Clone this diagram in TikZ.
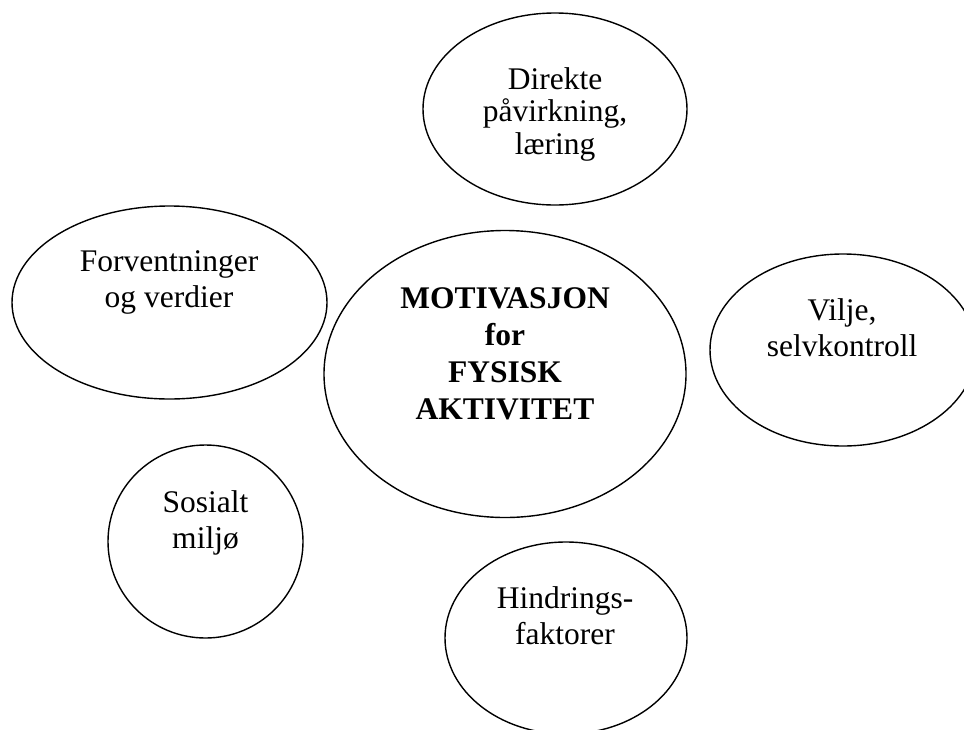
\documentclass[tikz,border=0pt]{standalone}
\usepackage{fontspec}
\setmainfont{Liberation Serif}
\usetikzlibrary{shapes.geometric}

\tikzset{
  bubble/.style={draw, ellipse, line width=1.4pt, inner sep=0pt},
  bubbletext/.style={align=center, inner sep=0pt, font=\fontsize{31.5}{36}\selectfont},
}

\begin{document}
\begin{tikzpicture}[x=1pt,y=1pt,yscale=-1,xscale=1]
                  \useasboundingbox (0,0) rectangle (964,729);
                  \clip (0,0) rectangle (964,729);

                  %Shape: Ellipse [id:direkte]
                  \node [bubble, minimum width=264, minimum height=192] (direkte) at (555,109) {};
                  %Shape: Ellipse [id:forvent]
                  \node [bubble, minimum width=315, minimum height=193] (forvent) at (169.5,302.5) {};
                  %Shape: Ellipse [id:motiv]
                  \node [bubble, minimum width=362, minimum height=287] (motiv) at (505,374) {};
                  %Shape: Ellipse [id:vilje]
                  \node [bubble, minimum width=266, minimum height=192] (vilje) at (843,350) {};
                  %Shape: Ellipse [id:sosial]
                  \node [bubble, minimum width=195, minimum height=193] (sosial) at (205.5,541.5) {};
                  %Shape: Ellipse [id:hindring]
                  \node [bubble, minimum width=242, minimum height=192] (hindring) at (566,638) {};

                  % Text Node
                  \draw (555,114) node [bubbletext, font=\fontsize{31.5}{32.5}\selectfont] (direkteTxt) {Direkte\\påvirkning,\\læring};
                  % Text Node
                  \draw (169,282.5) node [bubbletext] (forventTxt) {Forventninger\\og verdier};
                  % Text Node
                  \draw (505,354) node [bubbletext, font=\fontsize{31.5}{37}\selectfont\bfseries] (motivTxt) {MOTIVASJON\\for\\FYSISK\\AKTIVITET};
                  % Text Node
                  \draw (842,327.5) node [bubbletext] (viljeTxt) {Vilje,\\selvkontroll};
                  % Text Node
                  \draw (205.5,523) node [bubbletext] (sosialTxt) {Sosialt\\miljø};
                  % Text Node
                  \draw (565,616) node [bubbletext] (hindringTxt) {Hindrings-\\faktorer};

              \end{tikzpicture}
\end{document}
